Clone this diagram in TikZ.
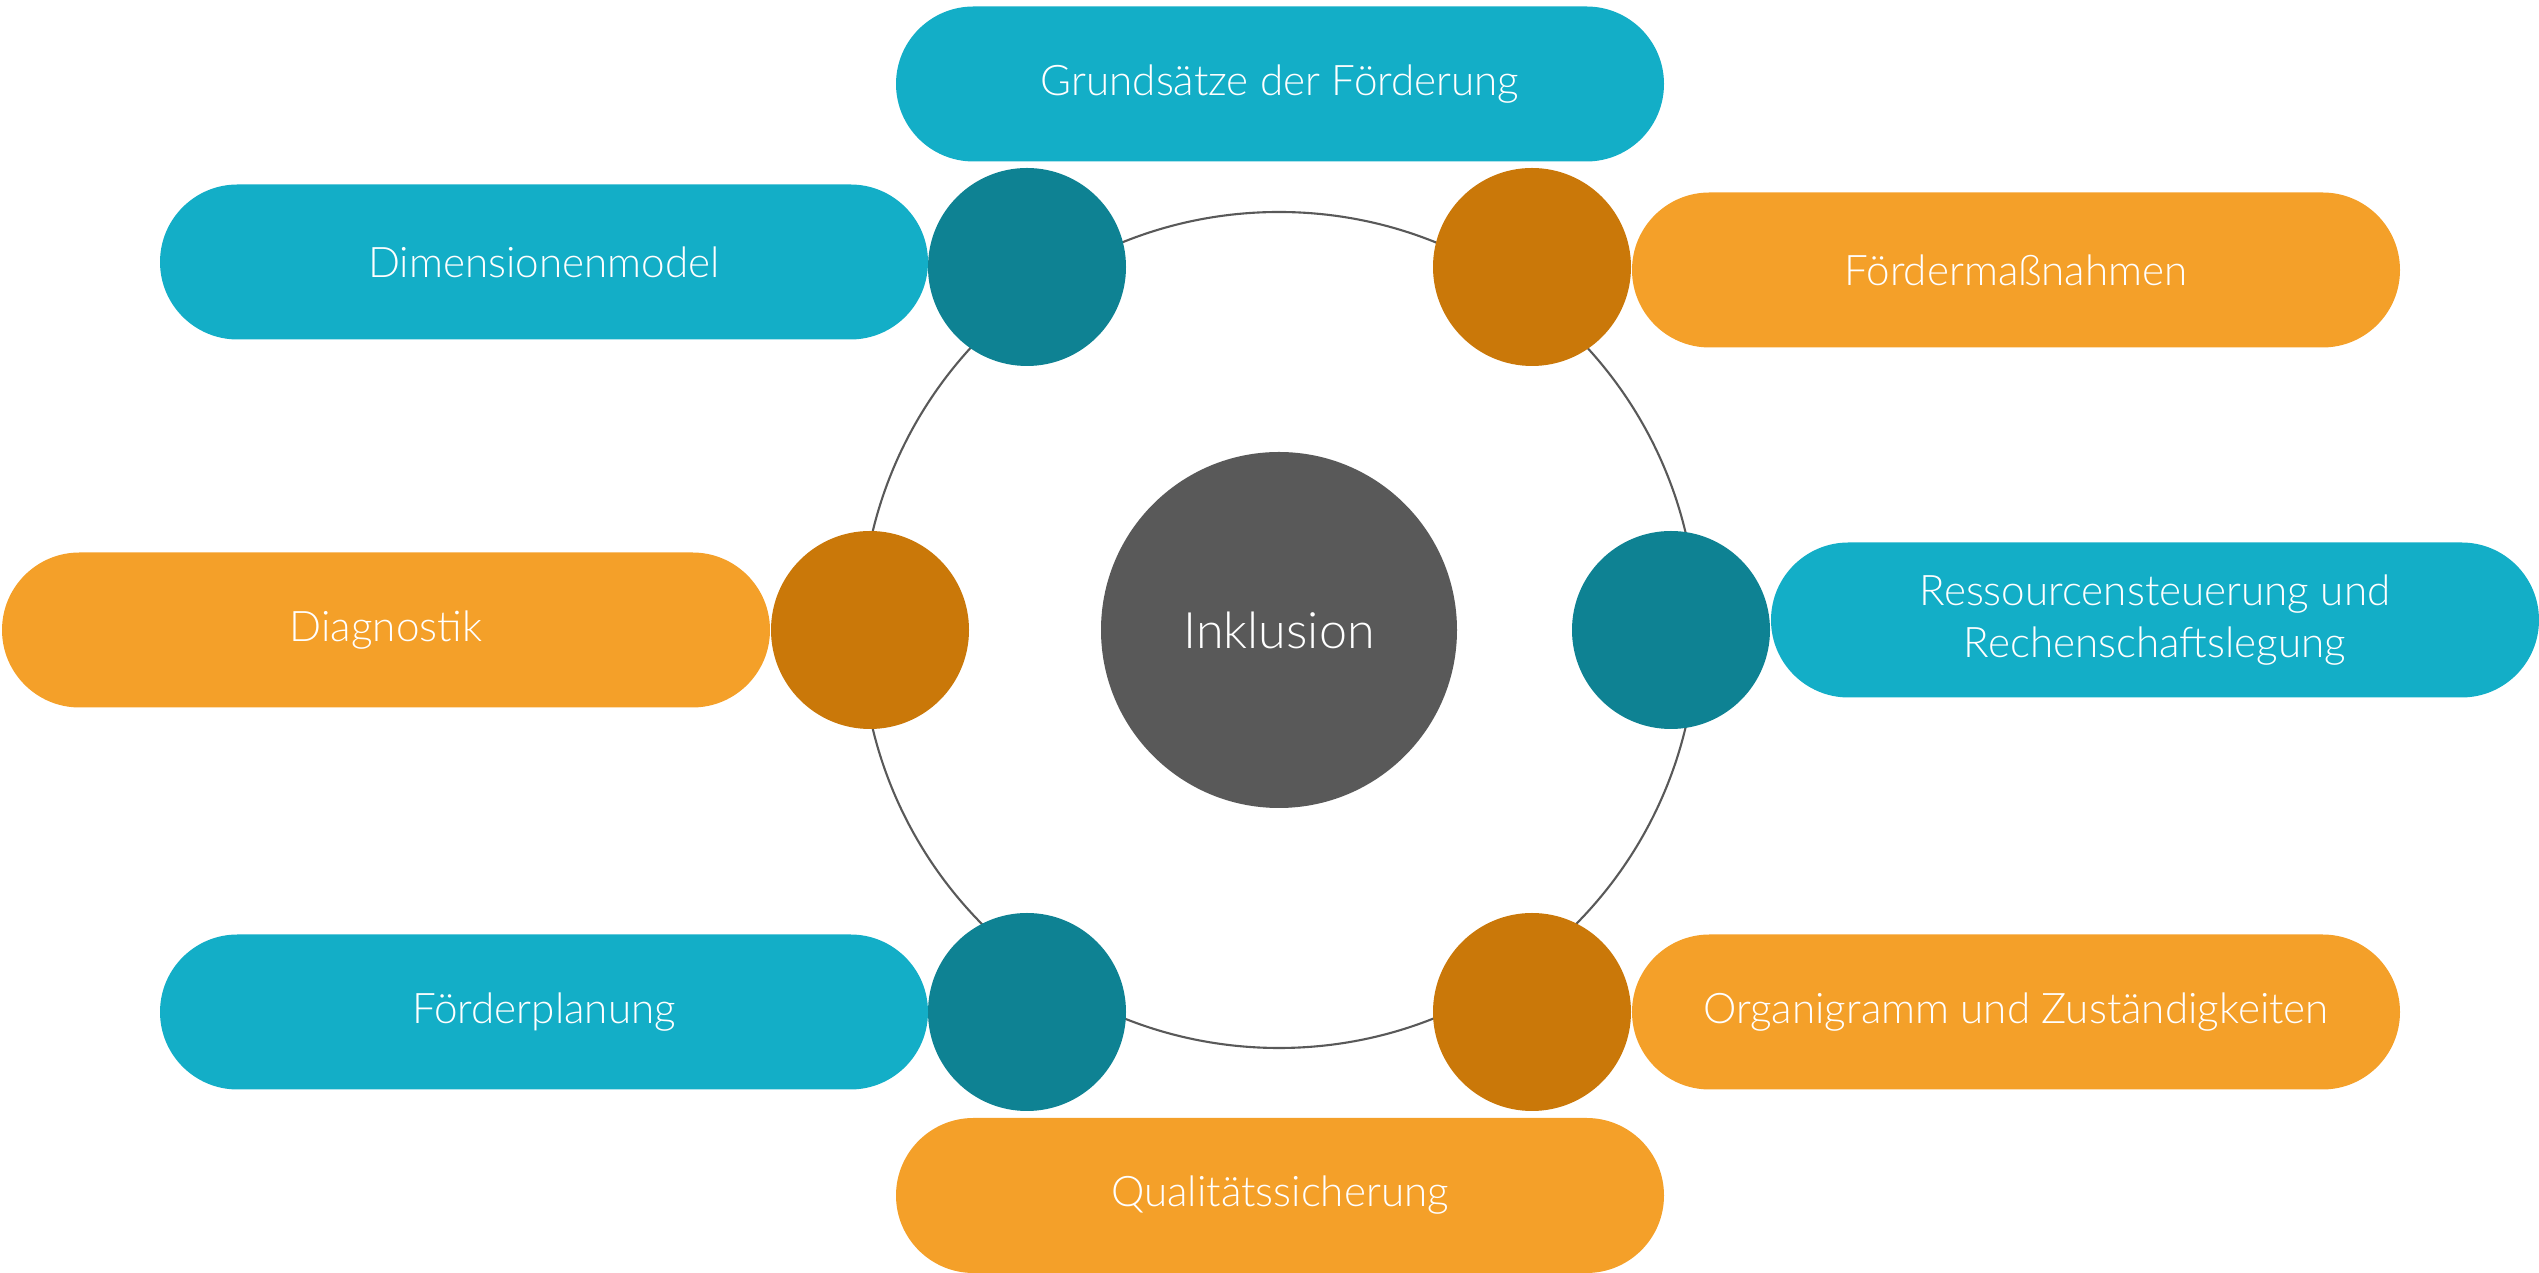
\documentclass[tikz,border=0pt]{standalone}
\usepackage{fontspec}
\setmainfont{Lato}[UprightFont=* Light]
\definecolor{tealpill}{HTML}{13AEC7}
\definecolor{tealdot}{HTML}{0E8293}
\definecolor{orangepill}{HTML}{F4A029}
\definecolor{orangedot}{HTML}{CA7809}
\definecolor{hubgray}{HTML}{595959}
\tikzset{
  pill/.style={rectangle, rounded corners=0.775cm, minimum width=7.68cm, minimum height=1.55cm,
    text=white, align=center, font=\fontsize{12}{15}\selectfont, inner sep=0pt},
  dot/.style={circle, minimum size=1.98cm, inner sep=0pt},
}

\begin{document}
\begin{tikzpicture}
\useasboundingbox (0,0) rectangle (25.39,12.73);
\draw[hubgray, line width=0.6pt] (12.79,6.43) circle (4.18cm);
\node[circle, fill=hubgray, minimum size=3.56cm, text=white, font=\fontsize{14.3}{17}\selectfont] (inkl) at (12.79,6.43) {Inklusion};
\node[dot, fill=tealdot] (d1) at (10.27,10.06) {};
\node[dot, fill=orangedot] (d2) at (15.32,10.06) {};
\node[dot, fill=orangedot] (d3) at (8.70,6.43) {};
\node[dot, fill=tealdot] (d4) at (16.71,6.43) {};
\node[dot, fill=tealdot] (d5) at (10.27,2.61) {};
\node[dot, fill=orangedot] (d6) at (15.32,2.61) {};
\node[pill, fill=tealpill] (grund) at (12.80,11.89) {Grundsätze der Förderung};
\node[pill, fill=tealpill] (dimen) at (5.44,10.11) {Dimensionenmodel};
\node[pill, fill=orangepill] (massn) at (20.16,10.03) {Fördermaßnahmen};
\node[pill, fill=orangepill] (diag) at (3.86,6.43) {Diagnostik};
\node[pill, fill=tealpill] (ress) at (21.55,6.53) {Ressourcensteuerung und\\Rechenschaftslegung};
\node[pill, fill=tealpill] (plan) at (5.44,2.61) {Förderplanung};
\node[pill, fill=orangepill] (orga) at (20.16,2.61) {Organigramm und Zuständigkeiten};
\node[pill, fill=orangepill] (qual) at (12.80,0.775) {Qualitätssicherung};
\end{tikzpicture}
\end{document}
